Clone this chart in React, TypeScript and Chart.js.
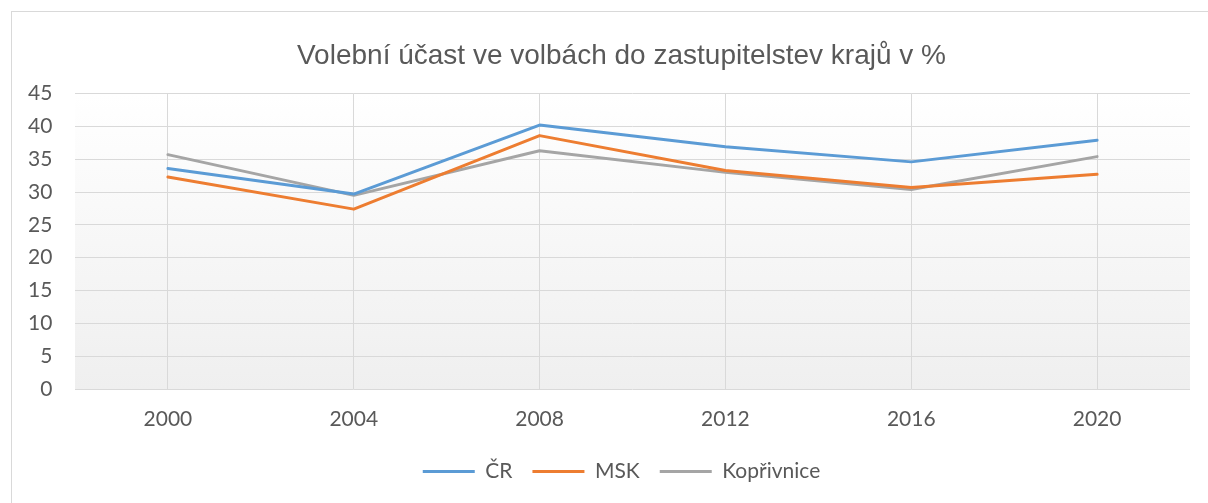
import React, { useEffect, useRef } from "react";
import { Chart, registerables } from "chart.js";

Chart.register(...registerables);

const TITLE = "Volební účast ve volbách do zastupitelstev krajů v %";
const YEARS = ["2000", "2004", "2008", "2012", "2016", "2020"];
const CR = [33.6, 29.7, 40.2, 36.9, 34.6, 37.9];
const MSK = [32.3, 27.4, 38.6, 33.3, 30.7, 32.7];
const KOPRIVNICE = [35.7, 29.5, 36.3, 33.0, 30.4, 35.4];
const Y_MIN = 0;
const Y_MAX = 45;
const Y_STEP = 5;

const TEXT = "#595959";
const GRID = "#d9d9d9";

const plotBg = {
  id: "plotBg",
  beforeDraw(chart: any) {
    const { ctx, chartArea } = chart;
    if (!chartArea) return;
    const g = ctx.createLinearGradient(0, chartArea.top, 0, chartArea.bottom);
    g.addColorStop(0, "#ffffff");
    g.addColorStop(1, "#efefef");
    ctx.save();
    ctx.fillStyle = g;
    ctx.fillRect(chartArea.left, chartArea.top, chartArea.right - chartArea.left, chartArea.bottom - chartArea.top);
    ctx.restore();
  },
};

export default function App() {
  const ref = useRef<HTMLCanvasElement>(null);
  useEffect(() => {
    if (!ref.current) return;
    const mk = (label: string, data: number[], color: string) => ({
      label,
      data,
      borderColor: color,
      backgroundColor: color,
      borderWidth: 3,
      pointRadius: 0,
      pointStyle: "line" as const,
      borderCapStyle: "round" as const,
      borderJoinStyle: "round" as const,
      tension: 0,
    });
    const chart = new Chart(ref.current, {
      type: "line",
      data: {
        labels: YEARS,
        datasets: [
          mk("ČR", CR, "#5b9bd5"),
          mk("MSK", MSK, "#ed7d31"),
          mk("Kopřivnice", KOPRIVNICE, "#a5a5a5"),
        ],
      },
      plugins: [plotBg],
      options: {
        animation: false,
        responsive: false,
        devicePixelRatio: 1,
        layout: { padding: { left: 41, right: 9, top: 0, bottom: 11 } },
        plugins: {
          tooltip: { enabled: false },
          title: {
            display: true,
            text: TITLE,
            color: TEXT,
            font: { family: "'Liberation Sans', Arial, sans-serif", size: 28, weight: "normal" },
            padding: { top: 27, bottom: 21 },
          },
          legend: {
            position: "bottom",
            labels: {
              usePointStyle: true,
              pointStyleWidth: 52,
              padding: 20,
              color: TEXT,
              font: { family: "Lato", size: 21 },
            },
          },
        },
        scales: {
          x: {
            type: "category",
            offset: true,
            grid: { offset: false, color: GRID, drawTicks: false },
            border: { display: false },
            ticks: { color: TEXT, font: { family: "Lato", size: 21 }, padding: 18 },
            afterFit(scale: any) {
              scale.height = 52;
            },
          },
          y: {
            min: Y_MIN,
            max: Y_MAX,
            grid: { color: GRID, drawTicks: false },
            border: { display: false },
            ticks: {
              stepSize: Y_STEP,
              color: TEXT,
              font: { family: "Lato", size: 21 },
              mirror: true,
              crossAlign: "far",
              padding: -47,
            },
            afterFit(scale: any) {
              scale.width = 22;
            },
          },
        },
      },
    });
    return () => chart.destroy();
  }, []);
  return (
    <div
      style={{
        position: "fixed",
        left: 11,
        top: 11,
        width: 1250,
        height: 560,
        border: "1px solid #d9d9d9",
        background: "#fff",
      }}
    >
      <canvas ref={ref} width={1187} height={491} style={{ display: "block", width: 1187, height: 491 }} />
    </div>
  );
}
